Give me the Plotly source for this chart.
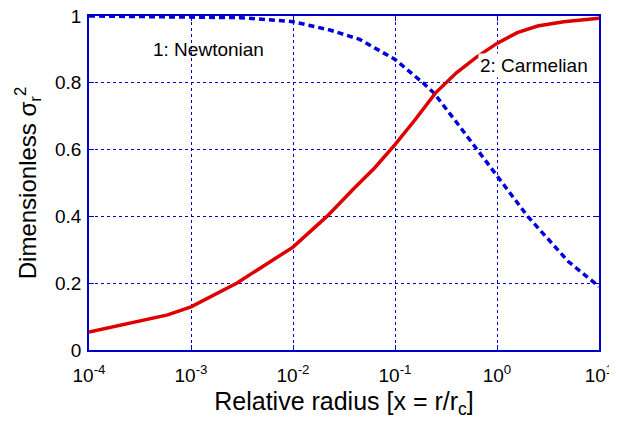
import plotly.graph_objects as go

# Red curve: 2: Carmelian
x_carm = [1e-4, 5.9e-4, 1e-3, 2.8e-3, 1e-2, 0.0215, 0.04, 0.063, 0.1,
          0.158, 0.25, 0.4, 0.63, 1.0, 1.58, 2.5, 4.5, 10.0]
y_carm = [0.054, 0.105, 0.129, 0.20, 0.308, 0.40, 0.485, 0.545, 0.615,
          0.69, 0.77, 0.83, 0.877, 0.918, 0.95, 0.97, 0.983, 0.993]

# Blue curve: 1: Newtonian
x_newt = [1e-4, 1e-3, 3e-3, 1e-2, 0.023, 0.045, 0.1, 0.188, 0.24, 0.434, 0.637,
          1.0, 2.0, 5.0, 10.0]
y_newt = [1.0, 0.998, 0.995, 0.983, 0.958, 0.93, 0.87, 0.80, 0.77, 0.668, 0.60,
          0.52, 0.40, 0.265, 0.19]

x_tickvals = [1e-4, 1e-3, 1e-2, 1e-1, 1e0, 1e1]
x_ticktext = ["10<sup>-4</sup>", "10<sup>-3</sup>", "10<sup>-2</sup>",
              "10<sup>-1</sup>", "10<sup>0</sup>", "10<sup>1</sup>"]
y_tickvals = [0, 0.2, 0.4, 0.6, 0.8, 1.0]
y_ticktext = ["0", "0.2", "0.4", "0.6", "0.8", "1"]

AX = "#0000cc"
FONT = "Liberation Sans, Arial, sans-serif"

fig = go.Figure()
fig.add_trace(go.Scatter(x=x_newt, y=y_newt, mode="lines",
                         line=dict(color="#0000dd", width=3.5, dash="6px,4px"),
                         showlegend=False))
fig.add_trace(go.Scatter(x=x_carm, y=y_carm, mode="lines",
                         line=dict(color="#dd0000", width=3.5),
                         showlegend=False))

fig.add_annotation(x=-2.83, y=0.901, xref="x", yref="y", text="1: Newtonian",
                   showarrow=False, font=dict(size=19, color="black", family=FONT),
                   xanchor="center", yanchor="middle")
fig.add_annotation(x=-0.185, y=0.853, xref="x", yref="y", text="2: Carmelian",
                   showarrow=False, font=dict(size=19, color="black", family=FONT),
                   xanchor="left", yanchor="middle", bgcolor="white", borderpad=1)

fig.update_xaxes(type="log", range=[-4, 1], tickvals=x_tickvals, ticktext=x_ticktext,
                 showline=True, linecolor=AX, linewidth=1.5, mirror="ticks",
                 ticks="inside", tickcolor=AX, ticklen=5, automargin=False,
                 ticklabeloverflow="allow", ticklabelstandoff=7,
                 showgrid=True, gridcolor=AX, griddash="dot", gridwidth=1,
                 zeroline=False, tickfont=dict(size=19, color="black", family=FONT),
                 title=dict(text="Relative radius [x = r/r<sub>c</sub>]",
                            font=dict(size=25, color="black", family=FONT), standoff=8))
fig.update_yaxes(range=[0, 1], tickvals=y_tickvals, ticktext=y_ticktext,
                 showline=True, linecolor=AX, linewidth=1.5, mirror="ticks",
                 ticks="inside", tickcolor=AX, ticklen=5, automargin=False,
                 ticklabeloverflow="allow", ticklabelstandoff=2,
                 showgrid=True, gridcolor=AX, griddash="dot", gridwidth=1,
                 zeroline=False, tickfont=dict(size=19, color="black", family=FONT),
                 title=dict(text="Dimensionless σ<sub>r</sub><sup>2</sup>",
                            font=dict(size=24, color="black", family=FONT), standoff=12))

# The page body has an 8px margin, so the figure is shrunk and margins reduced accordingly
fig.update_layout(width=609, height=418, plot_bgcolor="white", paper_bgcolor="white",
                  margin=dict(l=81, r=18, t=8, b=76, autoexpand=False),
                  font=dict(family=FONT))

fig.write_html("out.html")
